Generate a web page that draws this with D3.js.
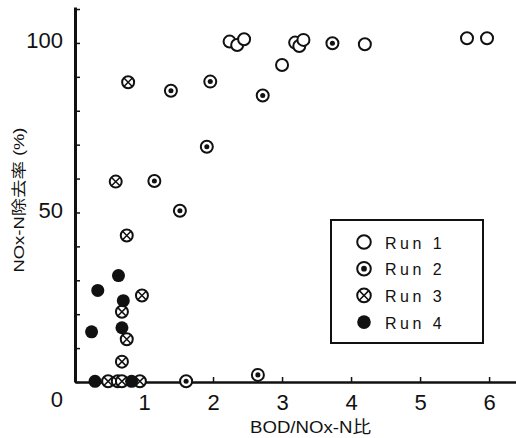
<!DOCTYPE html>
<html>
<head>
<meta charset="utf-8">
<script src="https://cdn.jsdelivr.net/npm/d3@7"></script>
<style>
  body { margin: 0; background: #fff; }
  svg { display: block; }
  text { font-family: "Liberation Sans", Arial, "Noto Sans CJK JP", sans-serif; fill: #111; }
</style>
</head>
<body>
<svg width="516" height="438"></svg>
<script>
// data: [BOD/NOx-N ratio, NOx-N removal %]
const run1 = [[2.24, 100.4], [2.35, 99.4], [2.45, 101.1], [3.0, 93.5], [3.19, 100.1],
  [3.25, 99.1], [3.31, 100.9], [4.2, 99.6], [5.68, 101.4], [5.97, 101.4]];
const run2 = [[1.15, 59.3], [1.39, 85.9], [1.52, 50.5], [1.61, 0.2], [1.91, 69.4],
  [1.96, 88.6], [2.65, 2.1], [2.72, 84.5], [3.73, 99.9]];
const run3 = [[0.77, 88.4], [0.59, 59.1], [0.75, 43.2], [0.97, 25.5], [0.68, 20.7],
  [0.75, 12.6], [0.68, 6.0], [0.48, 0.2], [0.62, 0.2], [0.68, 0.2], [0.94, 0.2]];
const run4 = [[0.63, 31.4], [0.33, 27.0], [0.7, 24.0], [0.24, 14.8], [0.68, 16.0],
  [0.29, 0.2], [0.82, 0.2]];
const runNames = ["Run 1", "Run 2", "Run 3", "Run 4"];
const xTicks = [1, 2, 3, 4, 5, 6];
const yTicks = [0, 10, 20, 30, 40, 50, 60, 70, 80, 90, 100, 110];
const yLabels = [0, 50, 100];

const svg = d3.select("svg");
const x = d3.scaleLinear().domain([0, 6.39]).range([75, 516]);
const y = d3.scaleLinear().domain([0, 110.6]).range([382, 7]);

// marker drawing, one style per run
function marker(g, run, r) {
  if (run === 3) {
    g.append("circle").attr("r", r).attr("fill", "#111");
    return;
  }
  g.append("circle").attr("r", r).attr("fill", "#fff")
    .attr("stroke", "#111").attr("stroke-width", 2);
  if (run === 1) {
    g.append("circle").attr("r", r * 0.42).attr("fill", "#111");
  }
  if (run === 2) {
    const k = r * 0.7;
    g.append("path")
      .attr("d", `M${-k},${-k}L${k},${k}M${-k},${k}L${k},${-k}`)
      .attr("stroke", "#111").attr("stroke-width", 1.5);
  }
}

// y axis
const yAxis = d3.axisLeft(y).tickValues(yTicks).tickSizeInner(-5).tickSizeOuter(0)
  .tickPadding(12).tickFormat(d => yLabels.includes(d) ? d : "");
const yg = svg.append("g").attr("transform", "translate(75,0)").call(yAxis);
yg.select(".domain").attr("stroke", "#111").attr("stroke-width", 3);
yg.selectAll(".tick line").attr("stroke", "#111").attr("stroke-width", 1.5);
yg.selectAll(".tick text").attr("font-size", 22).attr("fill", "#111")
  .attr("font-family", "Liberation Sans, Arial, sans-serif")
  .attr("transform", d => d === 0 ? "translate(0,17)" : "translate(0,-2)");

// x axis
const xAxis = d3.axisBottom(x).tickValues(xTicks).tickSizeInner(-5).tickSizeOuter(0)
  .tickPadding(12).tickFormat(d3.format("d"));
const xg = svg.append("g").attr("transform", "translate(0,382)").call(xAxis);
xg.select(".domain").attr("stroke", "#111").attr("stroke-width", 2.5);
xg.selectAll(".tick line").attr("stroke", "#111").attr("stroke-width", 1.5);
xg.selectAll(".tick text").attr("font-size", 22).attr("fill", "#111")
  .attr("font-family", "Liberation Sans, Arial, sans-serif");

// axis titles
svg.append("text")
  .attr("transform", "translate(24,200) rotate(-90)")
  .attr("text-anchor", "middle")
  .attr("font-size", 15)
  .attr("textLength", 145)
  .attr("lengthAdjust", "spacingAndGlyphs")
  .text("NOx-N除去率 (%)");

svg.append("text")
  .attr("x", 250).attr("y", 433)
  .attr("font-size", 17)
  .attr("textLength", 121)
  .attr("lengthAdjust", "spacingAndGlyphs")
  .text("BOD/NOx-N比");

// points
const runs = [run1, run2, run3, run4];
runs.forEach((pts, i) => {
  svg.append("g").selectAll("g").data(pts).join("g")
    .attr("transform", d => `translate(${x(d[0])},${y(d[1])})`)
    .each(function () { marker(d3.select(this), i, i === 3 ? 6.5 : 6); });
});

// legend
const legend = svg.append("g").attr("transform", "translate(331,220)");
legend.append("rect").attr("width", 152).attr("height", 123)
  .attr("fill", "#fff").attr("stroke", "#111").attr("stroke-width", 2);
runNames.forEach((name, i) => {
  const row = legend.append("g").attr("transform", `translate(33,${22 + i * 26.7})`);
  marker(row, i, 6.8);
  row.append("text").attr("x", 21).attr("y", 6.5)
    .attr("font-size", 16).attr("letter-spacing", "3.5px")
    .text(name);
});
</script>
</body>
</html>
